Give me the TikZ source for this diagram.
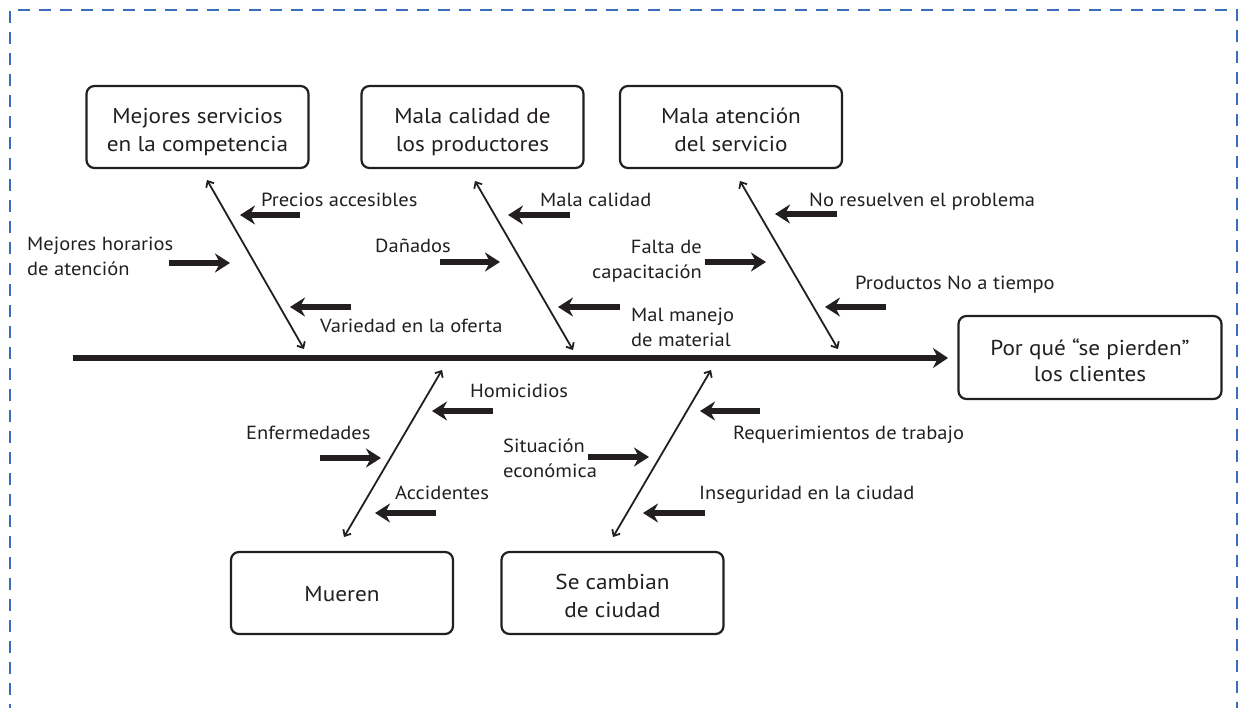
\documentclass[tikz,border=0pt]{standalone}
\usepackage{fontspec}
\setmainfont{PT Sans}[FakeStretch=1.08]
\usetikzlibrary{arrows.meta}
\definecolor{ink}{HTML}{231F20}
\definecolor{framecol}{RGB}{58,110,186}
% two centred lines whose first baseline sits a fixed 30pt below the top
\newcommand{\catlines}[2]{\rule{0pt}{30pt}\begin{tabular}[t]{@{}c@{}}#1\\#2\end{tabular}}

\begin{document}
\begin{tikzpicture}[x=1pt,y=-1pt,
  box/.style={draw=ink, line width=2.2pt, rounded corners=8pt,
    minimum width=222pt, minimum height=82pt,
    font=\fontsize{21.5}{28}\selectfont, text=ink, inner sep=0pt},
  onebox/.style={box, execute at begin node={\rule{0pt}{22pt}},
    execute at end node={\rule[-5pt]{0pt}{5pt}}},
  lbl/.style={font=\fontsize{19}{25}\selectfont, text=ink, inner sep=0pt},
  bone/.style={draw=ink, line width=1.8pt,
    {Straight Barb[length=5pt,width=9pt]}-{Straight Barb[length=5pt,width=9pt]}},
  cause/.style={draw=ink, line width=5.5pt,
    -{Stealth[length=15pt,width=19pt,inset=5pt]}},
  spine/.style={draw=ink, line width=6pt,
    -{Stealth[length=15pt,width=20pt,inset=5pt]}}
]
\useasboundingbox (0,0) rectangle (1240,708);

% dashed frame, open at the bottom
\draw[framecol, line width=2.2pt, dash pattern=on 12pt off 9pt]
  (10,716) -- (10,10) -- (1237,10) -- (1237,716);

% effect and category boxes
\node[box, minimum width=263pt, minimum height=83pt,
  font=\fontsize{21.5}{26}\selectfont] (effect) at (1090,357.5)
  {\catlines{Por qué “se pierden”}{los clientes}};
\node[box] (comp) at (197.5,127) {\catlines{Mejores servicios}{en la competencia}};
\node[box] (prod) at (472.5,127) {\catlines{Mala calidad de}{los productores}};
\node[box] (serv) at (731,127) {\catlines{Mala atención}{del servicio}};
\node[onebox] (die)  at (342,593) {Mueren};
\node[box] (move) at (612.5,593) {\catlines{Se cambian}{de ciudad}};

% spine
\coordinate (s0) at (73,358);
\coordinate (s1) at (948,358);
\draw[spine] (s0) -- (s1);

% bones
\coordinate (b1a) at (207,180); \coordinate (b1b) at (304,349);
\coordinate (b2a) at (475,181); \coordinate (b2b) at (573,350);
\coordinate (b3a) at (740,181); \coordinate (b3b) at (838,349);
\coordinate (b4a) at (442,370); \coordinate (b4b) at (344,537);
\coordinate (b5a) at (711,370); \coordinate (b5b) at (613,537);
\draw[bone] (b1a) -- (b1b);
\draw[bone] (b2a) -- (b2b);
\draw[bone] (b3a) -- (b3b);
\draw[bone] (b4a) -- (b4b);
\draw[bone] (b5a) -- (b5b);

% cause arrows
\coordinate (c1a) at (300,215); \coordinate (c1b) at (240,215);
\coordinate (c2a) at (169,263); \coordinate (c2b) at (230,263);
\coordinate (c3a) at (351,307); \coordinate (c3b) at (290,307);
\coordinate (c4a) at (570,215); \coordinate (c4b) at (508,215);
\coordinate (c5a) at (440,262); \coordinate (c5b) at (500,262);
\coordinate (c6a) at (620,307); \coordinate (c6b) at (558,307);
\coordinate (c7a) at (837,214); \coordinate (c7b) at (775,214);
\coordinate (c8a) at (705,262); \coordinate (c8b) at (766,262);
\coordinate (c9a) at (886,307); \coordinate (c9b) at (825,307);
\coordinate (d1a) at (493,411); \coordinate (d1b) at (432,411);
\coordinate (d2a) at (320,458); \coordinate (d2b) at (381,458);
\coordinate (d3a) at (436,513); \coordinate (d3b) at (375,513);
\coordinate (d4a) at (760,411); \coordinate (d4b) at (700,411);
\coordinate (d5a) at (588,457); \coordinate (d5b) at (649,457);
\coordinate (d6a) at (705,513); \coordinate (d6b) at (643,513);
\foreach \p in {c1,c2,c3,c4,c5,c6,c7,c8,c9,d1,d2,d3,d4,d5,d6}
  \draw[cause] (\p a) -- (\p b);

% cause labels (two-line labels are placed by their last baseline)
\node[lbl, anchor=base west] (t1) at (261,207) {Precios accesibles};
\node[lbl, anchor=base west, align=left] (t2) at (27,276) {Mejores horarios\\de atención};
\node[lbl, anchor=base west] (t3) at (320,333) {Variedad en la oferta};
\node[lbl, anchor=base west] (t4) at (540,207) {Mala calidad};
\node[lbl, anchor=base west] (t5) at (375,253) {Dañados};
\node[lbl, anchor=base west, align=left] (t6) at (631,347) {Mal manejo\\de material};
\node[lbl, anchor=base west] (t7) at (809,207) {No resuelven el problema};
\node[lbl, anchor=base east, align=right] (t8) at (702,279) {Falta de\\capacitación};
\node[lbl, anchor=base west] (t9) at (855,290) {Productos No a tiempo};
\node[lbl, anchor=base west] (u1) at (470,398) {Homicidios};
\node[lbl, anchor=base west] (u2) at (246,440) {Enfermedades};
\node[lbl, anchor=base west] (u3) at (395,500) {Accidentes};
\node[lbl, anchor=base west] (u4) at (733,440) {Requerimientos de trabajo};
\node[lbl, anchor=base west, align=left] (u5) at (503,478) {Situación\\económica};
\node[lbl, anchor=base west] (u6) at (699,500) {Inseguridad en la ciudad};
\end{tikzpicture}
\end{document}
